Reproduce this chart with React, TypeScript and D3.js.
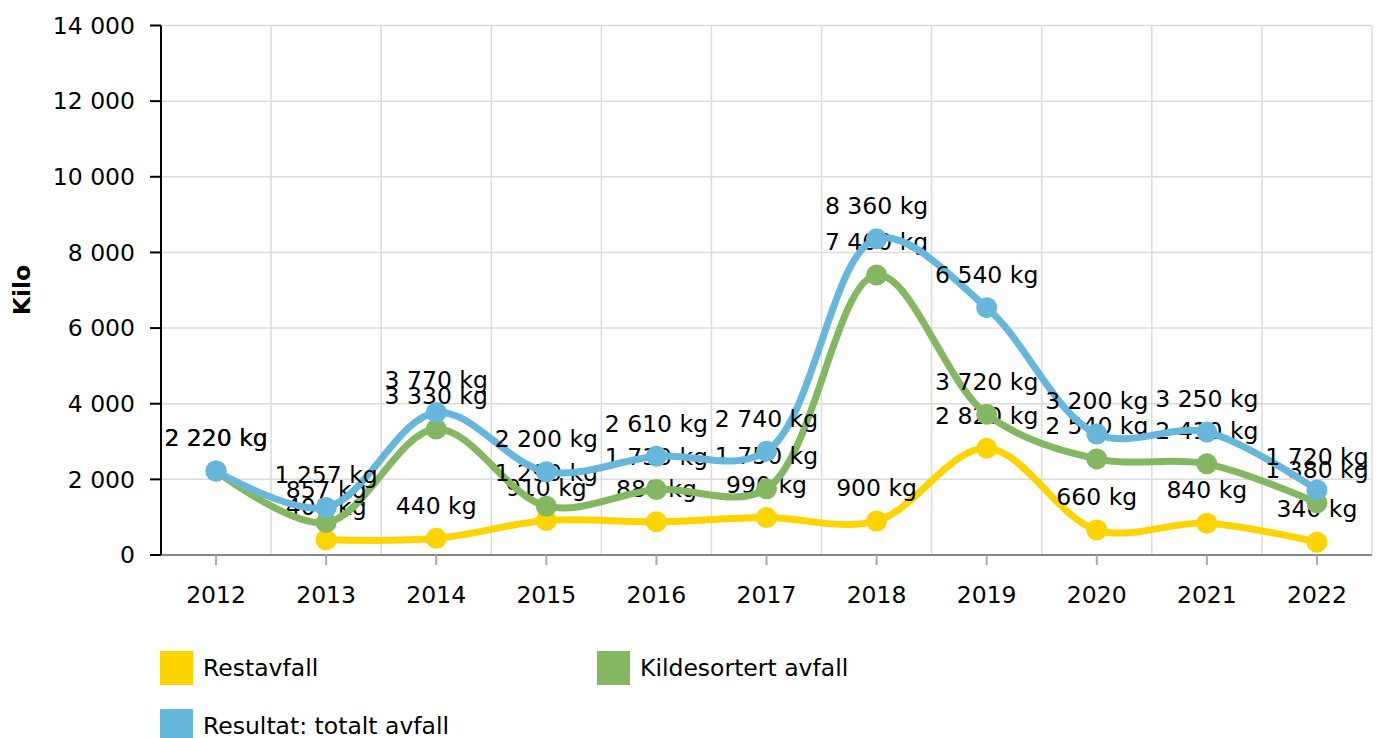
import React from "react";
import * as d3 from "d3";

const years = ["2012", "2013", "2014", "2015", "2016", "2017", "2018", "2019", "2020", "2021", "2022"];
const restavfall: (number | null)[] = [null, 400, 440, 910, 880, 990, 900, 2820, 660, 840, 340];
const kildesortert: (number | null)[] = [2220, 857, 3330, 1290, 1730, 1750, 7400, 3720, 2540, 2410, 1380];
const totalt: (number | null)[] = [2220, 1257, 3770, 2200, 2610, 2740, 8360, 6540, 3200, 3250, 1720];
const yTicks = [0, 2000, 4000, 6000, 8000, 10000, 12000, 14000];

const seriesList = [
  { name: "Restavfall", color: "#fdd400", values: restavfall },
  { name: "Kildesortert avfall", color: "#84b761", values: kildesortert },
  { name: "Resultat: totalt avfall", color: "#67b7dc", values: totalt },
];

const W = 1380;
const H = 738;
const left = 161;
const right = 1372;
const top = 25.5;
const bottom = 555;
const FONT = "'DejaVu Sans', Verdana, sans-serif";
const FS = 23.5;

const fmt = (v: number) => d3.format(",")(v).replace(/,/g, " ");

export default function App() {
  const x = d3.scaleBand<string>().domain(years).range([left, right]);
  const y = d3.scaleLinear().domain([0, 14000]).range([bottom, top]);
  const cx = (yr: string) => (x(yr) as number) + x.bandwidth() / 2;

  const line = d3
    .line<{ yr: string; v: number }>()
    .x((d) => cx(d.yr))
    .y((d) => y(d.v))
    .curve(d3.curveCatmullRom.alpha(0.5));

  const gridX = years.map((yr) => x(yr) as number).concat([right]);

  return (
    <svg width={W} height={H} style={{ position: "absolute", left: 0, top: 0, background: "#fff" }} fontFamily={FONT}>
      {/* grid */}
      {yTicks.map((t) => (
        <line key={"gy" + t} x1={left} x2={right} y1={y(t)} y2={y(t)} stroke="#dcdcdc" strokeWidth={1.5} />
      ))}
      {gridX.map((gx, i) => (
        <line key={"gx" + i} x1={gx} x2={gx} y1={top} y2={bottom} stroke="#dcdcdc" strokeWidth={1.5} />
      ))}
      {/* x axis */}
      <line x1={left} x2={right} y1={bottom} y2={bottom} stroke="#888" strokeWidth={2} />
      {years.map((yr) => (
        <g key={"xt" + yr}>
          <line x1={cx(yr)} x2={cx(yr)} y1={bottom} y2={bottom + 10} stroke="#aaa" strokeWidth={2} />
          <text x={cx(yr)} y={bottom + 40} dy="0.35em" textAnchor="middle" fontSize={FS} fill="#000">
            {yr}
          </text>
        </g>
      ))}
      {/* y axis */}
      <line x1={left} x2={left} y1={top} y2={bottom} stroke="#000" strokeWidth={2} />
      {yTicks.map((t) => (
        <g key={"yt" + t}>
          <line x1={left - 11} x2={left} y1={y(t)} y2={y(t)} stroke="#000" strokeWidth={2} />
          <text x={135} y={y(t)} dy="0.35em" textAnchor="end" fontSize={FS} fill="#000">
            {fmt(t)}
          </text>
        </g>
      ))}
      <text
        transform={`translate(30,290) rotate(-90)`}
        textAnchor="middle"
        fontSize={FS}
        fontWeight="bold"
        fill="#000"
      >
        Kilo
      </text>
      {/* series */}
      {seriesList.map((s) => {
        const pts = years
          .map((yr, i) => ({ yr, v: s.values[i] }))
          .filter((d) => d.v !== null) as { yr: string; v: number }[];
        return (
          <g key={s.name}>
            <path d={line(pts) || ""} fill="none" stroke={s.color} strokeWidth={7} strokeLinejoin="round" strokeLinecap="round" />
            {pts.map((d) => (
              <circle key={d.yr} cx={cx(d.yr)} cy={y(d.v)} r={10.5} fill={s.color} />
            ))}
            {pts.map((d) => (
              <text key={"l" + d.yr} x={cx(d.yr)} y={y(d.v) - 33} dy="0.35em" textAnchor="middle" fontSize={FS} fill="#000">
                {fmt(d.v) + " kg"}
              </text>
            ))}
          </g>
        );
      })}
      {/* legend */}
      {seriesList.map((s, i) => {
        const lx = i === 1 ? 597 : 160;
        const ly = i === 2 ? 709 : 651;
        return (
          <g key={"lg" + s.name}>
            <rect x={lx} y={ly} width={33} height={34} fill={s.color} />
            <text x={lx + 43} y={ly + 17} dy="0.35em" fontSize={FS} fill="#000">
              {s.name}
            </text>
          </g>
        );
      })}
    </svg>
  );
}
